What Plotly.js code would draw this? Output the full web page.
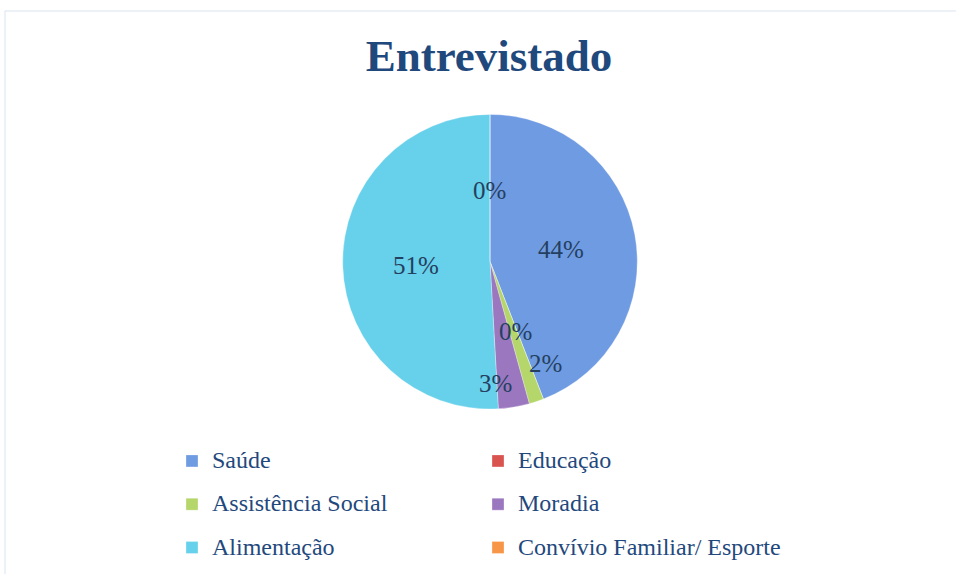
<!DOCTYPE html>
<html>
<head>
<meta charset="utf-8">
<script src="https://cdn.plot.ly/plotly-3.0.1.min.js"></script>
<style>html,body{margin:0;padding:0;background:#fff;}#chart{width:956px;height:574px;}</style>
</head>
<body>
<div id="chart"></div>
<script>
const categories = ["Saúde", "Educação", "Assistência Social", "Moradia", "Alimentação", "Convívio Familiar/ Esporte"];
const values = [44.1, 0, 1.6, 3.4, 50.9, 0];
const colors = ["#6f9be2", "#d9534f", "#b4d66a", "#9a77bf", "#67d0ea", "#f79646"];
const titleText = "Entrevistado";

// label placement (style only): radial fraction and angular nudge in degrees
const labelRadius = [0.49, 0.505, 0.79, 0.83, 0.505, 0.485];
const labelNudge = [1, 1.4, -10.3, 6.9, -1.3, -0.6];

const W = 956, H = 574;
const MR = 100;             // right margin keeps the legend at two columns
const PW = W - MR;          // paper width in px
const pieCx = 490, pieCy = 261.7, pieR = 147.3;
const domain = {
  x: [(pieCx - pieR) / PW, (pieCx + pieR) / PW],
  y: [1 - (pieCy + pieR) / H, 1 - (pieCy - pieR) / H]
};

const legendLabels = categories.map(c => '<span style="font-size:24px;baseline-shift:5px">' + c + '</span>');

const total = values.reduce((a, b) => a + b, 0);
const cx = (domain.x[0] + domain.x[1]) / 2 * PW;
const cy = (1 - (domain.y[0] + domain.y[1]) / 2) * H;
const R = Math.min((domain.x[1] - domain.x[0]) * PW, (domain.y[1] - domain.y[0]) * H) / 2;

let cum = 0;
const annotations = values.map((v, i) => {
  const midFrac = (cum + v / 2) / total;
  cum += v;
  const theta = (midFrac * 360 + labelNudge[i]) * Math.PI / 180;
  const px = cx + labelRadius[i] * R * Math.sin(theta);
  const py = cy - labelRadius[i] * R * Math.cos(theta);
  return {
    xref: 'paper', yref: 'paper',
    x: px / PW, y: 1 - py / H,
    xanchor: 'center', yanchor: 'middle',
    text: Math.round(v / total * 100) + '%',
    showarrow: false,
    font: {family: 'Liberation Serif', size: 25, color: '#243f60'}
  };
});

const trace = {
  type: 'pie',
  labels: legendLabels,
  values: values,
  sort: false,
  direction: 'clockwise',
  rotation: 0,
  marker: {colors: colors, line: {color: 'rgba(255,255,255,0.6)', width: 0.5}},
  textinfo: 'none',
  hoverinfo: 'label+percent',
  domain: domain,
  showlegend: true
};

const layout = {
  width: W, height: H,
  margin: {l: 0, r: MR, t: 0, b: 0, autoexpand: false},
  paper_bgcolor: '#ffffff',
  title: {
    text: titleText,
    font: {family: 'Liberation Serif', size: 45, color: '#1f497d', weight: 'bold'},
    x: 489 / W, xref: 'container', xanchor: 'center', y: 0.904, yanchor: 'middle'
  },
  showlegend: true,
  legend: {
    orientation: 'h',
    x: 172 / PW, xanchor: 'left',
    y: 0.2435, yanchor: 'top',
    entrywidth: 261, entrywidthmode: 'pixels',
    font: {family: 'Liberation Serif', size: 31, color: '#1f497d'},
    traceorder: 'normal'
  },
  annotations: annotations,
  shapes: [{
    type: 'rect', xref: 'paper', yref: 'paper',
    x0: 5 / PW, x1: (W + 10) / PW, y0: -0.05, y1: 1 - 11 / H,
    line: {color: '#d9e2ef', width: 1}, fillcolor: 'rgba(0,0,0,0)'
  }]
};

Plotly.newPlot('chart', [trace], layout, {displayModeBar: false, staticPlot: true});
</script>
</body>
</html>
